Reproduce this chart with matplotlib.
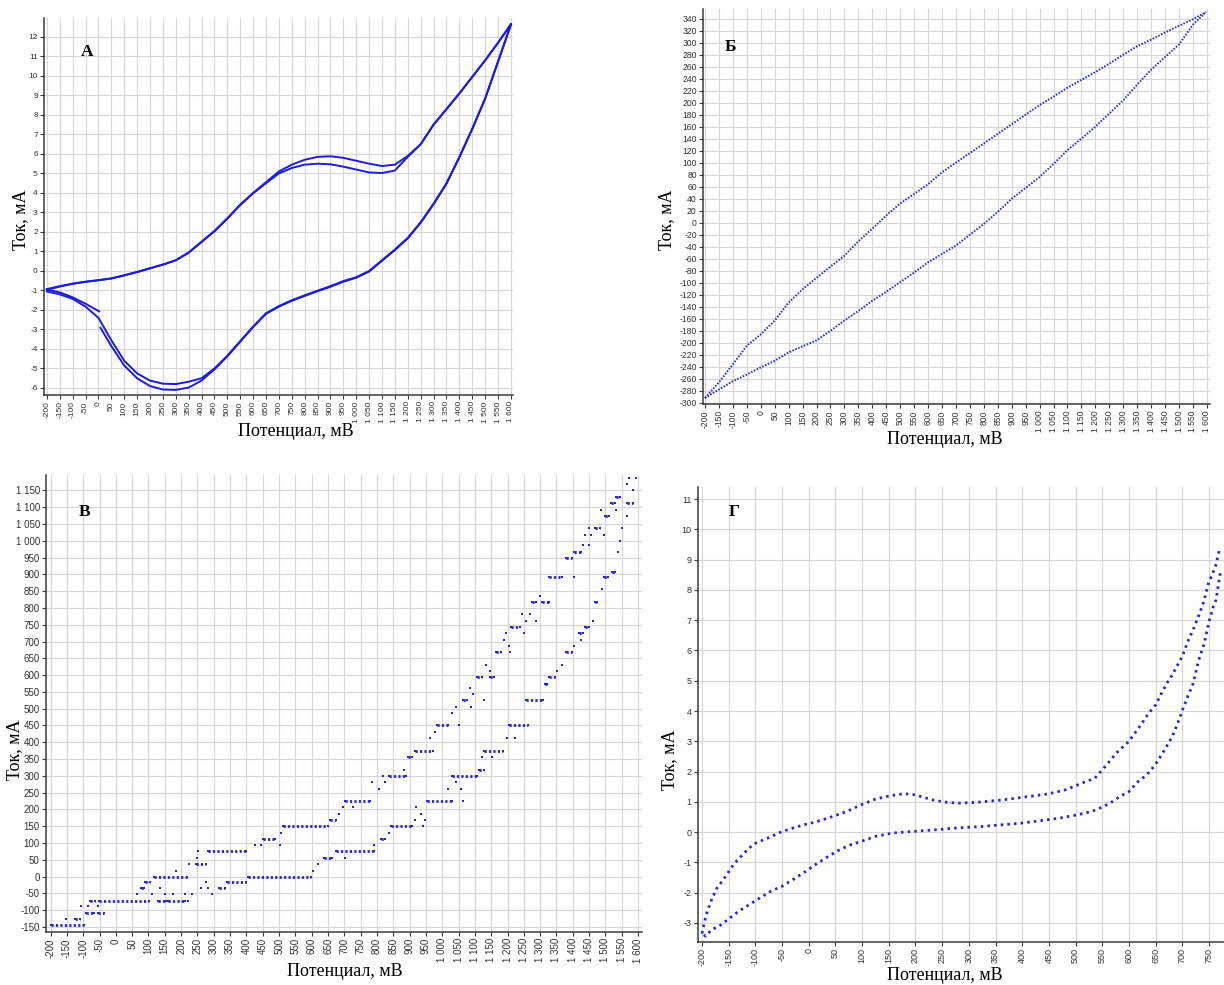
import matplotlib
matplotlib.use("Agg")
import matplotlib.pyplot as plt
from matplotlib.ticker import MultipleLocator, FuncFormatter

plt.rcParams['axes.unicode_minus'] = False

W, H = 1224, 985
BLUE = '#1c1cdc'
DOT = '#2626d6'

# ---------- panel A: two CV cycles ----------
a_start_x = [3, -50, -100, -150, -200]
a_start_y = [-2.07, -1.68, -1.35, -1.1, -0.95]

a_an_x = [-200, -150, -100, -50, 0, 50, 100, 150, 200, 250, 300, 350, 400, 450,
          500, 550, 600, 650, 700, 750, 800, 850, 900, 950, 1000, 1050, 1100,
          1150, 1200, 1250, 1300, 1350, 1400, 1450, 1500, 1550, 1600]
a_an_outer = [-0.93, -0.78, -0.65, -0.55, -0.47, -0.38, -0.22, -0.05, 0.14, 0.33,
              0.55, 0.95, 1.5, 2.05, 2.7, 3.4, 4.0, 4.55, 5.1, 5.45, 5.7, 5.85,
              5.88, 5.8, 5.65, 5.5, 5.38, 5.45, 5.9, 6.5, 7.5, 8.3, 9.1, 9.95,
              10.8, 11.7, 12.65]
a_an_inner = [-0.98, -0.8, -0.66, -0.56, -0.48, -0.39, -0.23, -0.06, 0.13, 0.32,
              0.54, 0.93, 1.48, 2.03, 2.68, 3.38, 3.98, 4.5, 5.0, 5.28, 5.45, 5.5,
              5.47, 5.35, 5.2, 5.05, 5.02, 5.15, 5.85, 6.5, 7.5, 8.3, 9.1, 9.95,
              10.8, 11.7, 12.65]

a_ca_x = [1600, 1550, 1500, 1450, 1400, 1350, 1300, 1250, 1200, 1150, 1100, 1050,
          1000, 950, 900, 850, 800, 750, 700, 650, 600, 550, 500, 450, 400, 350,
          300, 250, 200, 150, 100, 50, 0, -50, -100, -150, -200]
a_ca_inner = [12.65, 10.75, 8.85, 7.3, 5.85, 4.5, 3.45, 2.5, 1.7, 1.1, 0.55, 0.0,
              -0.32, -0.52, -0.78, -1.01, -1.25, -1.5, -1.8, -2.17, -2.85, -3.6,
              -4.35, -5.0, -5.5, -5.68, -5.8, -5.78, -5.62, -5.25, -4.6, -3.55,
              -2.4, -1.83, -1.43, -1.2, -1.05]
a_ca_outer_x = a_ca_x[:32] + [8]
a_ca_outer = [12.62, 10.72, 8.82, 7.27, 5.82, 4.47, 3.42, 2.47, 1.67, 1.07, 0.52,
              -0.03, -0.35, -0.55, -0.81, -1.04, -1.28, -1.53, -1.83, -2.2, -2.88,
              -3.63, -4.38, -5.05, -5.62, -5.98, -6.1, -6.08, -5.9, -5.5, -4.85,
              -3.85, -2.91]

# ---------- panel Б ----------
b_x = [-200, -150, -100, -50, 0, 50, 100, 150, 200, 250, 300, 350, 400, 450, 500,
       550, 600, 650, 700, 750, 800, 850, 900, 950, 1000, 1050, 1100, 1150, 1200,
       1250, 1300, 1350, 1400, 1450, 1500, 1550, 1597]
b_upper = [-292, -266, -236, -205, -186, -163, -133, -111, -92, -73, -55, -31, -10,
           12, 32, 48, 64, 84, 100, 116, 132, 148, 164, 180, 196, 210, 225, 238,
           251, 265, 280, 294, 305, 317, 328, 339, 351]
b_lower = [-292, -278, -264, -253, -241, -230, -216, -206, -196, -180, -163, -147,
           -130, -115, -99, -83, -66, -52, -38, -20, -2, 18, 40, 58, 76, 98, 121,
           140, 160, 182, 204, 230, 255, 276, 297, 330, 351]

# ---------- panel В: quantised current, runs of points ----------
v_lvl = [-143, -125, -125, -107, -107, -88, -88, -88, -72, -72, -72, -72, -72,
         -53, -53, -53, -53, -53, -53, -53, -35, -35, -35, -35, -35, -17, -17, -17,
         0, 0, 18, 18, 37, 37, 37, 56, 56, 56, 75, 75, 75, 93, 93, 93, 93, 112, 112,
         131, 131, 150, 150, 150, 168, 168, 168, 187, 187, 206, 206, 206, 225, 225,
         225, 262, 262, 262, 281, 281, 281, 300, 300, 300, 318, 318, 356, 356, 356,
         375, 375, 412, 412, 412, 431, 450, 450, 450, 487, 506, 506, 525, 525, 525,
         543, 562, 575, 593, 593, 593, 612, 612, 631, 631, 668, 668, 668, 687, 687,
         706, 706, 725, 725, 725, 743, 743, 762, 762, 762, 781, 781, 818, 818, 818,
         837, 856, 893, 893, 893, 906, 950, 968, 968, 987, 987, 1000, 1018, 1018,
         1018, 1037, 1037, 1037, 1075, 1075, 1093, 1093, 1112, 1112, 1131, 1150,
         1168, 1187, 1187]
v_x0 = [-200, -152, -125, -90, -56, -106, -84, -56, -78, -52, 128, 161, 221,
        64, 112, 150, 174, 212, 232, 296, 77, 135, 261, 283, 315, 90, 277, 341,
        116, 405, 184, 605, 225, 245, 618, 248, 638, 702, 251, 283, 676, 425, 444,
        502, 792, 451, 811, 506, 837, 511, 844, 940, 657, 915, 947, 683, 934, 695,
        728, 921, 702, 953, 1063, 805, 1018, 1056, 786, 824, 1043, 818, 837, 1030,
        882, 1114, 895, 1121, 1153, 915, 1127, 962, 1198, 1224, 979, 985, 1050,
        1205, 1030, 1043, 1088, 1063, 1127, 1256, 1095, 1086, 1314, 1108, 1147,
        1327, 1147, 1353, 1134, 1366, 1166, 1207, 1379, 1205, 1404, 1189, 1424,
        1195, 1250, 1418, 1211, 1437, 1256, 1288, 1462, 1243, 1269, 1275, 1307,
        1469, 1301, 1488, 1327, 1404, 1495, 1520, 1379, 1404, 1540, 1430, 1450,
        1546, 1437, 1456, 1495, 1450, 1469, 1552, 1498, 1565, 1485, 1533, 1517,
        1565, 1533, 1585, 1565, 1572, 1594]
v_x1 = [-97, -152, -110, -68, -35, -106, -84, -56, -65, 103, 154, 212, 221,
        64, 112, 150, 174, 212, 232, 296, 87, 135, 261, 283, 335, 105, 277, 399,
        219, 599, 184, 605, 225, 277, 618, 248, 663, 702, 251, 399, 792, 425, 444,
        502, 792, 489, 824, 506, 837, 650, 908, 940, 676, 915, 947, 683, 934, 695,
        728, 921, 779, 1030, 1063, 805, 1018, 1056, 786, 824, 1043, 818, 889, 1108,
        882, 1127, 908, 1121, 1153, 973, 1185, 962, 1198, 1224, 979, 1018, 1050,
        1262, 1030, 1043, 1088, 1076, 1127, 1308, 1095, 1086, 1320, 1121, 1160,
        1346, 1147, 1353, 1134, 1366, 1179, 1207, 1398, 1205, 1404, 1189, 1424,
        1195, 1250, 1430, 1237, 1450, 1256, 1288, 1462, 1243, 1269, 1288, 1327,
        1475, 1301, 1488, 1366, 1404, 1508, 1529, 1398, 1424, 1540, 1430, 1450,
        1546, 1437, 1456, 1495, 1450, 1482, 1552, 1511, 1565, 1485, 1533, 1530,
        1585, 1546, 1585, 1565, 1572, 1594]

# ---------- panel Г ----------
g_up_x = [-200, -192, -182, -172, -160, -141, -121, -103, -77, -50, -10, 10, 44,
          71, 98, 125, 152, 179, 199, 233, 260, 283, 313, 361, 401, 448, 482, 509,
          536, 560, 576, 600, 620, 637, 650, 661, 671, 681, 691, 701, 710, 720,
          730, 740, 749, 762, 770]
g_up_y = [-3.35, -2.72, -2.23, -1.85, -1.57, -1.07, -0.69, -0.39, -0.2, 0.02, 0.24,
          0.32, 0.51, 0.68, 0.9, 1.09, 1.2, 1.27, 1.23, 1.06, 0.98, 0.96, 0.98,
          1.06, 1.15, 1.26, 1.4, 1.6, 1.78, 2.26, 2.61, 3.0, 3.49, 3.93, 4.2, 4.59,
          4.92, 5.19, 5.52, 5.85, 6.29, 6.68, 7.12, 7.61, 8.22, 8.77, 9.37]
g_dn_x = [771, 763, 758, 750, 741, 730, 720, 711, 701, 691, 681, 671, 661, 651,
          641, 631, 617, 600, 583, 570, 553, 530, 503, 469, 435, 395, 361, 320, 280,
          233, 192, 158, 125, 98, 78, 58, 37, 17, -10, -30, -50, -71, -91, -111,
          -131, -151, -168, -182, -193, -200]
g_dn_y = [8.55, 7.67, 7.45, 6.96, 6.24, 5.64, 4.9, 4.52, 4.07, 3.58, 3.16, 2.85,
          2.55, 2.28, 2.04, 1.86, 1.67, 1.34, 1.18, 1.02, 0.85, 0.68, 0.57, 0.46,
          0.38, 0.29, 0.24, 0.18, 0.14, 0.07, 0.02, -0.03, -0.14, -0.31, -0.42,
          -0.58, -0.8, -1.02, -1.35, -1.57, -1.79, -1.95, -2.17, -2.39, -2.61,
          -2.88, -3.11, -3.22, -3.44, -3.35]

fig = plt.figure(figsize=(W / 100, H / 100), dpi=100)


def px_axes(l, r, t, b):
    return fig.add_axes([l / W, 1 - b / H, (r - l) / W, (b - t) / H])


def thousands(v, pos):
    return f"{int(round(v)):,}".replace(",", " ")


def style(ax, xstep, ystep, fs):
    ax.xaxis.set_major_locator(MultipleLocator(xstep))
    ax.yaxis.set_major_locator(MultipleLocator(ystep))
    ax.xaxis.set_major_formatter(FuncFormatter(thousands))
    ax.yaxis.set_major_formatter(FuncFormatter(thousands))
    ax.grid(True, color='#d6d6d6', lw=0.8)
    ax.set_axisbelow(True)
    for s in ('top', 'right'):
        ax.spines[s].set_visible(False)
    for s in ('left', 'bottom'):
        ax.spines[s].set_color('#3a3a3a')
        ax.spines[s].set_linewidth(1.1)
    ax.tick_params(length=3, width=0.8, color='#3a3a3a', labelcolor='#333333',
                   labelsize=fs, pad=1.5)
    for lab in ax.get_xticklabels():
        lab.set_rotation(90)
    for lab in ax.get_xticklabels() + ax.get_yticklabels():
        lab.set_family('Liberation Sans')


SERIF = 'Liberation Serif'

# A
axA = px_axes(44, 513, 18, 395)
axA.plot(a_start_x, a_start_y, color=BLUE, lw=1.4)
axA.plot(a_an_x, a_an_outer, color=BLUE, lw=1.4)
axA.plot(a_ca_x, a_ca_inner, color=BLUE, lw=1.4)
axA.plot(a_an_x, a_an_inner, color=BLUE, lw=1.4)
axA.plot(a_ca_outer_x, a_ca_outer, color=BLUE, lw=1.4)
axA.set_xlim(-211, 1608)
axA.set_ylim(-6.36, 12.97)
style(axA, 50, 1, 6)

# Б
axB = px_axes(703, 1210, 9, 404)
axB.plot(b_x, b_upper, color=DOT, lw=1.4, ls=(0, (0.8, 0.8)))
axB.plot(b_x, b_lower, color=DOT, lw=1.4, ls=(0, (0.8, 0.8)))
axB.set_xlim(-207, 1611)
axB.set_ylim(-302, 356)
style(axB, 50, 20, 6.2)

# В
axC = px_axes(46, 642, 475, 932)
for lvl, x0, x1 in zip(v_lvl, v_x0, v_x1):
    if x1 > x0:
        axC.plot([x0, x1], [lvl, lvl], color=DOT, lw=2.0, ls=(0, (0.8, 0.8)))
    axC.plot([x0, x1], [lvl, lvl], ls='none', marker='s', ms=2.0, color=DOT,
             mew=0)
axC.set_xlim(-214, 1612)
axC.set_ylim(-165, 1196)
style(axC, 50, 50, 7)

# Г
axD = px_axes(698, 1224, 487, 942)
axD.plot(g_up_x, g_up_y, color=DOT, lw=2.0, ls=(0, (0.9, 1.5)))
axD.plot(g_dn_x, g_dn_y, color=DOT, lw=2.0, ls=(0, (0.9, 1.5)))
axD.set_xlim(-207.5, 778)
axD.set_ylim(-3.63, 11.4)
style(axD, 50, 1, 6.5)


def ftext(x, y, s, **kw):
    fig.text(x / W, 1 - y / H, s, ha='center', va='center', family=SERIF, **kw)


ftext(87, 52, 'А', fontsize=12.5, fontweight='bold')
ftext(730, 47, 'Б', fontsize=12.5, fontweight='bold')
ftext(85, 512, 'В', fontsize=12.5, fontweight='bold')
ftext(734, 512, 'Г', fontsize=12.5, fontweight='bold')

ftext(296, 431, 'Потенциал, мВ', fontsize=13)
ftext(945, 440, 'Потенциал, мВ', fontsize=13)
ftext(345, 971, 'Потенциал, мВ', fontsize=13)
ftext(945, 975, 'Потенциал, мВ', fontsize=13)

ftext(21, 220, 'Ток, мА', fontsize=13, rotation=90)
ftext(667, 220, 'Ток, мА', fontsize=13, rotation=90)
ftext(15, 750, 'Ток, мА', fontsize=13, rotation=90,
      bbox=dict(fc='white', ec='none', pad=0.5))
ftext(670, 760, 'Ток, мА', fontsize=13, rotation=90)

fig.savefig('out.png', dpi=100)
